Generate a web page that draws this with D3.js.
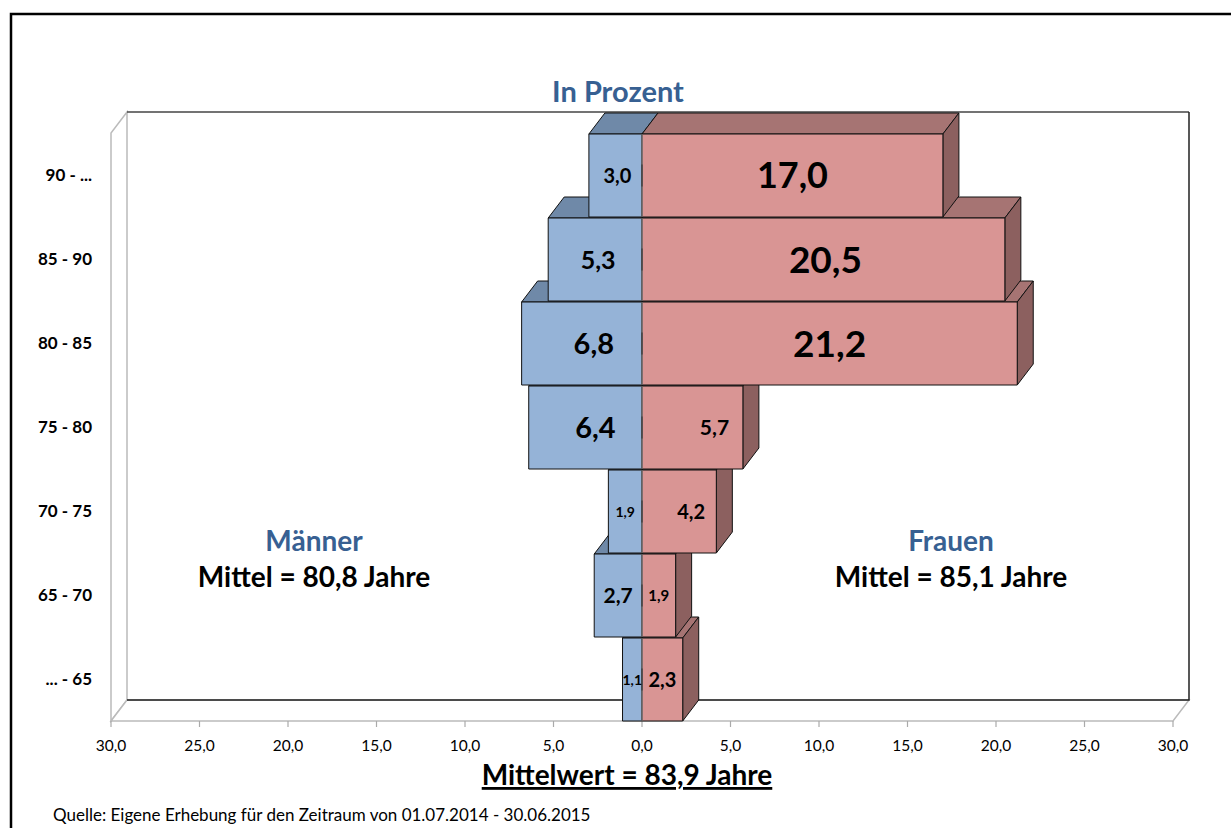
<!DOCTYPE html>
<html><head><meta charset="utf-8">
<script src="https://cdn.jsdelivr.net/npm/d3@7"></script>
<style>body{margin:0;background:#fff}svg{display:block}text{font-family:Lato,"Open Sans",sans-serif}</style>
</head><body><svg id="c" width="1231" height="828"></svg>
<script>
const categories = ["90 - ...", "85 - 90", "80 - 85", "75 - 80", "70 - 75", "65 - 70", "... - 65"];
const maenner = [3.0, 5.3, 6.8, 6.4, 1.9, 2.7, 1.1];
const frauen  = [17.0, 20.5, 21.2, 5.7, 4.2, 1.9, 2.3];
const maennerLabelSize = [20, 25, 29, 29, 14, 21, 14];
const frauenLabelSize  = [36, 37, 37, 21, 20, 15, 20];
const maennerLabelShift = [2, 3, 12, 10, 0, 0, 0];
const frauenLabelShift  = [0, 2, 0, 22, 12, 0, 0];
const xTicks = [-30, -25, -20, -15, -10, -5, 0, 5, 10, 15, 20, 25, 30];

const svg = d3.select("#c");
const fmt = v => d3.format(".1f")(Math.abs(v)).replace(".", ",");
const x = d3.scaleLinear().domain([-30, 30]).range([111, 1173]);
const y = d3.scaleBand().domain(categories).range([133, 721]).padding(0);
const dx = 16, dy = -21;
const blueF = "#95b3d7", blueT = "#6f89a8";
const pinkF = "#d99594", pinkT = "#a67473", pinkS = "#8c605f";

// outer frame
svg.append("path").attr("d", "M11,828 V14 H1231").attr("fill", "none").attr("stroke", "#000").attr("stroke-width", 2.5);

const x0 = x(-30), x1 = x(30), yT = y.range()[0], yB = y.range()[1];
// left wall
svg.append("path").attr("d", `M${x0},${yB} V${yT} L${x0+dx},${yT+dy} V${yB+dy} Z`).attr("fill", "#fff").attr("stroke", "#bbb").attr("stroke-width", 1.5);
// floor
svg.append("path").attr("d", `M${x0},${yB} L${x0+dx},${yB+dy} H${x1+dx} L${x1},${yB} Z`).attr("fill", "#fff").attr("stroke", "#bbb").attr("stroke-width", 1.5);
// back wall edges
svg.append("path").attr("d", `M${x0+dx},${yT+dy} H${x1+dx}`).attr("stroke", "#444").attr("stroke-width", 1.5).attr("fill", "none");
svg.append("path").attr("d", `M${x1+dx},${yT+dy} V${yB+dy} H${x0+dx}`).attr("stroke", "#222").attr("stroke-width", 1.5).attr("fill", "none");

// x axis ticks & labels
const ax = svg.append("g");
xTicks.forEach(t => {
  ax.append("line").attr("x1", x(t)).attr("x2", x(t)).attr("y1", yB).attr("y2", yB + 6).attr("stroke", "#aaa").attr("stroke-width", 1.2);
  ax.append("text").attr("x", x(t)).attr("y", yB + 30).attr("text-anchor", "middle").attr("font-size", 15.5).attr("fill", "#000").text(fmt(t));
});

// category labels
categories.forEach(c => {
  svg.append("text").attr("x", 92).attr("y", y(c) + y.bandwidth() / 2 + 6).attr("text-anchor", "end")
    .attr("font-size", 17).attr("font-weight", "bold").attr("fill", "#000").text(c);
});

// bars: bottom to top
const idx = d3.range(categories.length).reverse();
const bars = svg.append("g").attr("stroke", "#111").attr("stroke-width", 1).attr("stroke-linejoin", "round");
idx.forEach(i => {
  const c = categories[i];
  const t = y(c) + 1, b = y(c) + y.bandwidth();
  const xm = x(-maenner[i]), xz = x(0), xf = x(frauen[i]);
  // male
  bars.append("path").attr("d", `M${xm},${t} H${xz} L${xz+dx},${t+dy} H${xm+dx} Z`).attr("fill", blueT);
  bars.append("rect").attr("x", xm).attr("y", t).attr("width", xz - xm).attr("height", b - t).attr("fill", blueF);
  // female
  bars.append("path").attr("d", `M${xz},${t} H${xf} L${xf+dx},${t+dy} H${xz+dx} Z`).attr("fill", pinkT);
  bars.append("path").attr("d", `M${xf},${t} L${xf+dx},${t+dy} V${b+dy} L${xf},${b} Z`).attr("fill", pinkS);
  bars.append("rect").attr("x", xz).attr("y", t).attr("width", xf - xz).attr("height", b - t).attr("fill", pinkF);
  // divider at zero
  bars.append("line").attr("x1", xz).attr("x2", xz).attr("y1", t).attr("y2", b).attr("stroke", "#8a8a8a");
  const cy = (t + b) / 2;
  bars.append("line").attr("x1", xz).attr("x2", xz).attr("y1", cy - 11).attr("y2", cy + 11).attr("stroke", "#333");
  // labels
  svg.append("text").attr("x", (xm + xz) / 2 + maennerLabelShift[i]).attr("y", cy).attr("dy", "0.36em").attr("text-anchor", "middle")
    .attr("font-size", maennerLabelSize[i]).attr("font-weight", "bold").attr("fill", "#000").text(fmt(maenner[i]));
  svg.append("text").attr("x", (xz + xf) / 2 + frauenLabelShift[i]).attr("y", cy).attr("dy", "0.36em").attr("text-anchor", "middle")
    .attr("font-size", frauenLabelSize[i]).attr("font-weight", "bold").attr("fill", "#000").text(fmt(frauen[i]));
});

// titles
const blue = "#376092";
svg.append("text").attr("x", 618).attr("y", 102).attr("text-anchor", "middle").attr("font-size", 29).attr("font-weight", "bold").attr("fill", blue).text("In Prozent");
svg.append("text").attr("x", 314).attr("y", 551).attr("text-anchor", "middle").attr("font-size", 28).attr("font-weight", "bold").attr("fill", blue).text("Männer");
svg.append("text").attr("x", 314).attr("y", 587).attr("text-anchor", "middle").attr("font-size", 28).attr("font-weight", "bold").attr("fill", "#000").text("Mittel = 80,8 Jahre");
svg.append("text").attr("x", 951).attr("y", 551).attr("text-anchor", "middle").attr("font-size", 28).attr("font-weight", "bold").attr("fill", blue).text("Frauen");
svg.append("text").attr("x", 951).attr("y", 587).attr("text-anchor", "middle").attr("font-size", 28).attr("font-weight", "bold").attr("fill", "#000").text("Mittel = 85,1 Jahre");
svg.append("text").attr("x", 627).attr("y", 785).attr("text-anchor", "middle").attr("font-size", 28).attr("font-weight", "bold").attr("fill", "#000").attr("text-decoration", "underline").text("Mittelwert = 83,9 Jahre");
svg.append("text").attr("x", 53).attr("y", 821).attr("font-size", 17).attr("fill", "#000").text("Quelle: Eigene Erhebung für den Zeitraum von 01.07.2014  - 30.06.2015");
</script></body></html>
